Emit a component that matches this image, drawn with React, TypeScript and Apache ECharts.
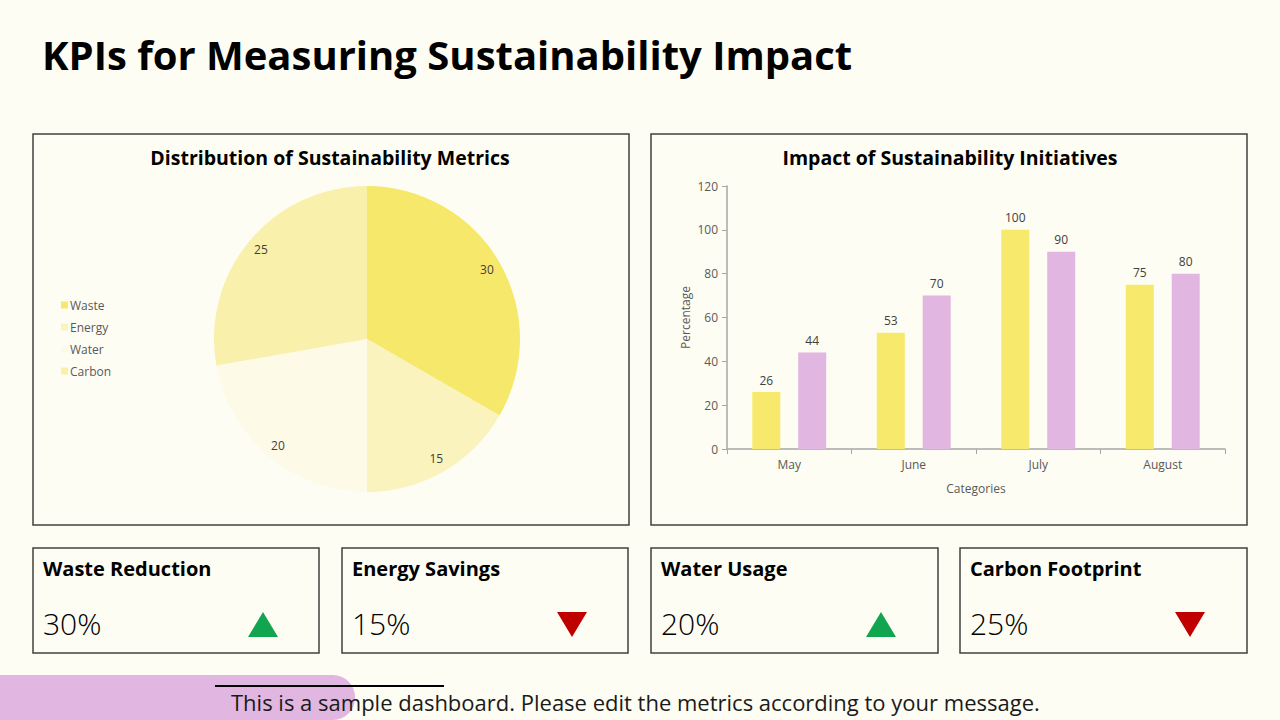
import React, { useEffect, useRef } from "react";
import * as echarts from "echarts";

// Pie: share of each sustainability metric
const metricNames = ["Waste", "Energy", "Water", "Carbon"];
const metricValues = [30, 15, 20, 25];
const metricColors = ["#F6E86A", "#FAF3BE", "#FEFAE8", "#F9F0AC"];

// Bars: monthly impact of initiatives
const months = ["May", "June", "July", "August"];
const seriesA = [26, 53, 100, 75];
const seriesB = [44, 70, 90, 80];

// KPI cards
const kpiTitles = ["Waste Reduction", "Energy Savings", "Water Usage", "Carbon Footprint"];
const kpiValues = ["30%", "15%", "20%", "25%"];
const kpiTrendUp = [true, false, true, false];

const FONT = "'Open Sans', sans-serif";
const BG = "#FDFDF3";
const BORDER = "#404040";

export default function App() {
  const ref = useRef<HTMLDivElement>(null);

  useEffect(() => {
    document.body.style.margin = "0";
    document.body.style.background = BG;
    const chart = echarts.init(ref.current!, undefined, { renderer: "svg" });

    const cardX = [33, 342, 651, 960];
    const cardW = [286, 286, 287, 287];
    const graphics: any[] = [
      // page title
      {
        type: "text",
        x: 42,
        y: 54,
        style: { text: "KPIs for Measuring Sustainability Impact", font: `bold 40px ${FONT}`, fill: "#000", verticalAlign: "middle" },
      },
      // chart panels
      { type: "rect", shape: { x: 33, y: 134, width: 596, height: 391 }, style: { fill: "none", stroke: BORDER, lineWidth: 1.5 } },
      { type: "rect", shape: { x: 651, y: 134, width: 596, height: 391 }, style: { fill: "none", stroke: BORDER, lineWidth: 1.5 } },
      {
        type: "text",
        x: 330,
        y: 157,
        style: { text: "Distribution of Sustainability Metrics", font: `bold 19.5px ${FONT}`, fill: "#000", align: "center", verticalAlign: "middle" },
      },
      {
        type: "text",
        x: 950,
        y: 157,
        style: { text: "Impact of Sustainability Initiatives", font: `bold 19.5px ${FONT}`, fill: "#000", align: "center", verticalAlign: "middle" },
      },
      // footer band
      { type: "rect", shape: { x: -30, y: 675, width: 385, height: 45, r: [0, 22, 22, 0] }, style: { fill: "#E1B6E0" }, z: 0 },
      { type: "line", shape: { x1: 215, y1: 686, x2: 444, y2: 686 }, style: { stroke: "#000", lineWidth: 2 } },
      {
        type: "text",
        x: 231,
        y: 702,
        style: {
          text: "This is a sample dashboard. Please edit the metrics according to your message.",
          font: `22px ${FONT}`,
          fill: "#1a1a1a",
          verticalAlign: "middle",
        },
      },
    ];

    kpiTitles.forEach((t, i) => {
      const x = cardX[i];
      const cx = x + 230;
      graphics.push(
        { type: "rect", shape: { x, y: 548, width: cardW[i], height: 105 }, style: { fill: "none", stroke: BORDER, lineWidth: 1.5 } },
        { type: "text", x: x + 10, y: 568, style: { text: t, font: `bold 20px ${FONT}`, fill: "#000", verticalAlign: "middle" } },
        { type: "text", x: x + 10, y: 623, style: { text: kpiValues[i], font: `300 30px ${FONT}`, fill: "#000", verticalAlign: "middle" } },
        kpiTrendUp[i]
          ? { type: "polygon", shape: { points: [[cx - 15, 637], [cx + 15, 637], [cx, 612]] }, style: { fill: "#12A550" } }
          : { type: "polygon", shape: { points: [[cx - 15, 612], [cx + 15, 612], [cx, 637]] }, style: { fill: "#C00000" } }
      );
    });

    const pieData = metricNames.map((n, i) => ({ name: n, value: metricValues[i], itemStyle: { color: metricColors[i] } }));
    const axisGray = "#A6A6A6";
    const labelGray = "#595959";

    chart.setOption({
      animation: false,
      backgroundColor: BG,
      textStyle: { fontFamily: FONT },
      legend: {
        data: metricNames,
        orient: "vertical",
        left: 61,
        top: 298,
        padding: 0,
        itemWidth: 7,
        itemHeight: 7,
        itemGap: 8,
        icon: "rect",
        textStyle: { fontSize: 12, color: labelGray, fontFamily: FONT, padding: [0, 0, 0, -3], lineHeight: 14 },
      },
      grid: { left: 727, right: 55, top: 186, bottom: 271, containLabel: false },
      xAxis: {
        type: "category",
        data: months,
        axisLine: { lineStyle: { color: axisGray, width: 1.5 } },
        axisTick: { show: true, length: 5, lineStyle: { color: axisGray } },
        axisLabel: { color: labelGray, fontSize: 12, margin: 9, fontFamily: FONT },
        name: "Categories",
        nameLocation: "middle",
        nameGap: 33,
        nameTextStyle: { color: labelGray, fontSize: 12, fontFamily: FONT },
      },
      yAxis: {
        type: "value",
        min: 0,
        max: 120,
        interval: 20,
        splitLine: { show: false },
        axisLine: { show: true, lineStyle: { color: axisGray, width: 1.5 } },
        axisTick: { show: true, length: 5, lineStyle: { color: axisGray } },
        axisLabel: { color: labelGray, fontSize: 12, margin: 9, fontFamily: FONT },
        name: "Percentage",
        nameLocation: "middle",
        nameGap: 36,
        nameTextStyle: { color: labelGray, fontSize: 12, fontFamily: FONT },
      },
      series: [
        {
          type: "pie",
          center: [367, 339],
          radius: 153,
          startAngle: 90,
          clockwise: true,
          data: pieData,
          label: { show: false },
          labelLine: { show: false },
          emphasis: { disabled: true },
        },
        {
          // label ring placed near the rim
          type: "pie",
          center: [367, 339],
          radius: [118, 153],
          startAngle: 90,
          clockwise: true,
          silent: true,
          data: metricNames.map((n, i) => ({ name: n, value: metricValues[i] })),
          itemStyle: { color: "rgba(0,0,0,0)" },
          label: { show: true, position: "inside", color: "#404040", fontSize: 12, fontFamily: FONT, formatter: "{c}" },
          labelLine: { show: false },
          emphasis: { disabled: true },
        },
        {
          type: "bar",
          data: seriesA,
          barWidth: 28,
          barGap: "64%",
          itemStyle: { color: "#F7E96B" },
          label: { show: true, position: "top", color: "#404040", fontSize: 12, distance: 6, fontFamily: FONT },
        },
        {
          type: "bar",
          data: seriesB,
          barWidth: 28,
          itemStyle: { color: "#E1B6E0" },
          label: { show: true, position: "top", color: "#404040", fontSize: 12, distance: 6, fontFamily: FONT },
        },
      ],
      graphic: graphics,
    });

    return () => chart.dispose();
  }, []);

  return <div ref={ref} style={{ position: "fixed", left: 0, top: 0, width: 1280, height: 720 }} />;
}
